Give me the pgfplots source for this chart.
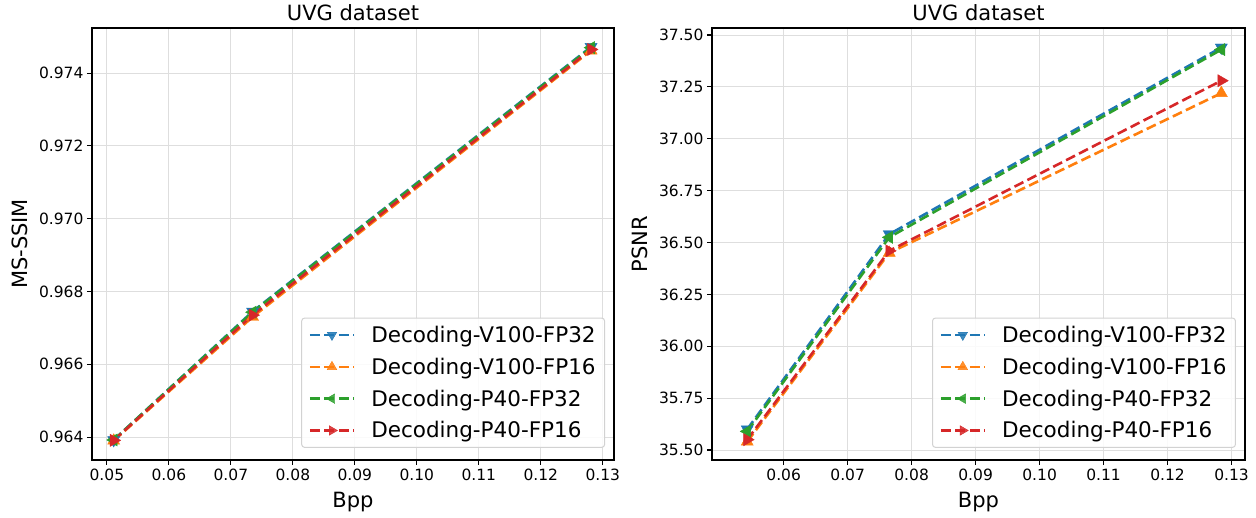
\documentclass[border=0pt]{standalone}
\usepackage{fontspec}
\setmainfont{DejaVu Sans}
\usepackage{pgfplots}
\pgfplotsset{compat=1.18}

\definecolor{tabblue}{HTML}{1F77B4}
\definecolor{taborange}{HTML}{FF7F0E}
\definecolor{tabgreen}{HTML}{2CA02C}
\definecolor{tabred}{HTML}{D62728}
\definecolor{gridc}{RGB}{222,222,222}

\pgfplotsset{
  uvg/.style={
    scale only axis, height=432pt,
    anchor=south west,
    grid=major, major grid style={gridc, line width=1pt},
    axis line style={line width=1.1pt},
    tick align=outside, tick pos=left,
    major tick length=5pt, tick style={black, line width=1.1pt},
    scaled ticks=false,
    /pgf/number format/assume math mode=true,
    tick label style={font=\fontsize{15.5}{18}\selectfont},
    label style={font=\fontsize{21}{24}\selectfont},
    xlabel style={yshift=-5pt},
    ylabel style={yshift=4pt},
    title style={font=\fontsize{21}{24}\selectfont, yshift=-2pt},
    title={UVG dataset},
    xlabel={Bpp},
    x tick label style={/pgf/number format/.cd, fixed, fixed zerofill, precision=2},
    legend cell align=left,
    legend style={font=\fontsize{21.5}{25}\selectfont, draw=gray!35, rounded corners=3pt,
      fill=white, fill opacity=0.85, text opacity=1, line width=1pt,
      row sep=10pt, inner xsep=7pt, inner ysep=6pt,
      at={(axis description cs:0.983,0.028)}, anchor=south east},
    legend image code/.code={
      \draw[mark repeat=2,mark phase=2,mark size=5.5pt] plot coordinates {(0pt,0pt) (22pt,0pt) (44pt,0pt)};
      \path (58pt,0pt);},
  },
  ser/.style={color=#1, line width=2.6pt, dash pattern=on 10pt off 4.5pt,
    mark size=7pt},
}

\begin{document}
\begin{tikzpicture}
\useasboundingbox (0,0) rectangle (1256pt,518pt);

\begin{axis}[uvg, at={(92pt,58pt)}, width=522pt,
  xmin=0.0476, xmax=0.1318, ymin=0.96337, ymax=0.97524,
  xtick={0.05,0.06,0.07,0.08,0.09,0.10,0.11,0.12,0.13},
  ytick={0.964,0.966,0.968,0.970,0.972,0.974},
  y tick label style={/pgf/number format/.cd, fixed, fixed zerofill, precision=3},
  ylabel={MS-SSIM}]
\addplot[ser=tabblue, mark=triangle*, mark options={solid, line width=0.4pt, rotate=180}]
  coordinates {(0.0511,0.96392) (0.0735,0.96745) (0.1281,0.97472)};
\addplot[ser=taborange, mark=triangle*, mark options={solid, line width=0.4pt}]
  coordinates {(0.0511,0.96390) (0.0735,0.96730) (0.1281,0.97462)};
\addplot[ser=tabgreen, mark=triangle*, mark options={solid, line width=0.4pt, rotate=90}]
  coordinates {(0.0511,0.96392) (0.0735,0.96743) (0.1281,0.97470)};
\addplot[ser=tabred, mark=triangle*, mark options={solid, line width=0.4pt, rotate=-90}]
  coordinates {(0.0511,0.96391) (0.0735,0.96735) (0.1281,0.97465)};
\legend{Decoding-V100-FP32, Decoding-V100-FP16, Decoding-P40-FP32, Decoding-P40-FP16}
\end{axis}

\begin{axis}[uvg, at={(712pt,58pt)}, width=533pt,
  xmin=0.0488, xmax=0.1321, ymin=35.452, ymax=37.534,
  xtick={0.06,0.07,0.08,0.09,0.10,0.11,0.12,0.13},
  ytick={35.5,35.75,36,36.25,36.5,36.75,37,37.25,37.5},
  y tick label style={/pgf/number format/.cd, fixed, fixed zerofill, precision=2},
  ylabel={PSNR}]
\addplot[ser=tabblue, mark=triangle*, mark options={solid, line width=0.4pt, rotate=180}]
  coordinates {(0.0543,35.60) (0.0765,36.54) (0.1284,37.44)};
\addplot[ser=taborange, mark=triangle*, mark options={solid, line width=0.4pt}]
  coordinates {(0.0543,35.54) (0.0765,36.45) (0.1284,37.22)};
\addplot[ser=tabgreen, mark=triangle*, mark options={solid, line width=0.4pt, rotate=90}]
  coordinates {(0.0543,35.59) (0.0765,36.525) (0.1284,37.43)};
\addplot[ser=tabred, mark=triangle*, mark options={solid, line width=0.4pt, rotate=-90}]
  coordinates {(0.0543,35.55) (0.0765,36.46) (0.1284,37.28)};
\legend{Decoding-V100-FP32, Decoding-V100-FP16, Decoding-P40-FP32, Decoding-P40-FP16}
\end{axis}
\end{tikzpicture}
\end{document}
